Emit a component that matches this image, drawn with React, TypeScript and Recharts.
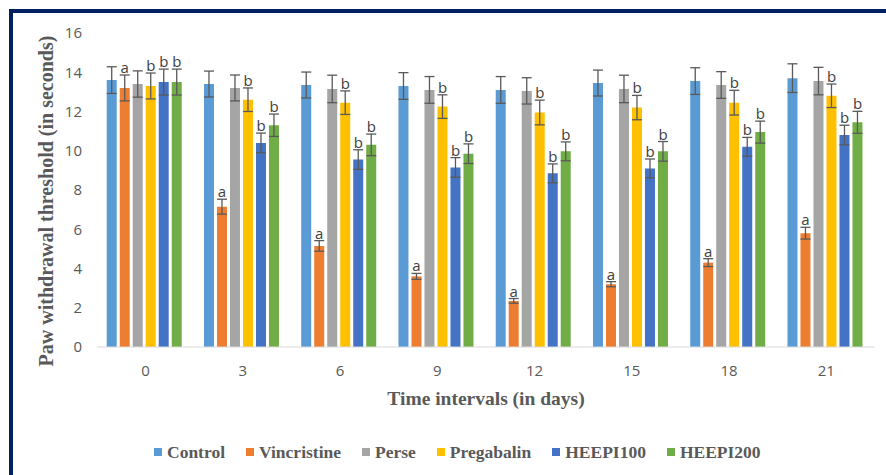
import React from 'react';
import { BarChart, Bar, XAxis, YAxis, ErrorBar, LabelList, Legend, Label } from 'recharts';

const days = ['0', '3', '6', '9', '12', '15', '18', '21'];
const yTicks = [0, 2, 4, 6, 8, 10, 12, 14, 16];

const control = [13.6, 13.4, 13.35, 13.3, 13.1, 13.45, 13.55, 13.7];
const controlErr = [0.68, 0.66, 0.66, 0.68, 0.68, 0.66, 0.68, 0.73];
const vincristine = [13.2, 7.15, 5.15, 3.6, 2.35, 3.2, 4.3, 5.8];
const vincristineErr = [0.66, 0.38, 0.27, 0.15, 0.12, 0.13, 0.2, 0.3];
const perse = [13.4, 13.2, 13.15, 13.1, 13.05, 13.15, 13.35, 13.55];
const perseErr = [0.67, 0.66, 0.7, 0.68, 0.67, 0.7, 0.68, 0.7];
const pregabalin = [13.3, 12.6, 12.45, 12.25, 11.95, 12.2, 12.45, 12.8];
const pregabalinErr = [0.66, 0.6, 0.6, 0.6, 0.63, 0.62, 0.63, 0.6];
const heepi100 = [13.5, 10.4, 9.55, 9.15, 8.85, 9.1, 10.2, 10.8];
const heepi100Err = [0.66, 0.5, 0.5, 0.5, 0.48, 0.48, 0.48, 0.5];
const heepi200 = [13.5, 11.3, 10.3, 9.85, 9.97, 9.97, 10.95, 11.45];
const heepi200Err = [0.66, 0.57, 0.55, 0.5, 0.48, 0.5, 0.56, 0.56];

const data = days.map((day, i) => ({
  day,
  control: control[i], controlErr: controlErr[i],
  vincristine: vincristine[i], vincristineErr: vincristineErr[i],
  perse: perse[i], perseErr: perseErr[i],
  pregabalin: pregabalin[i], pregabalinErr: pregabalinErr[i],
  heepi100: heepi100[i], heepi100Err: heepi100Err[i],
  heepi200: heepi200[i], heepi200Err: heepi200Err[i],
}));

const series = [
  { key: 'control', name: 'Control', color: '#5B9BD5', errs: controlErr, letter: '' },
  { key: 'vincristine', name: 'Vincristine', color: '#ED7D31', errs: vincristineErr, letter: 'a' },
  { key: 'perse', name: 'Perse', color: '#A5A5A5', errs: perseErr, letter: '' },
  { key: 'pregabalin', name: 'Pregabalin', color: '#FFC000', errs: pregabalinErr, letter: 'b' },
  { key: 'heepi100', name: 'HEEPI100', color: '#4472C4', errs: heepi100Err, letter: 'b' },
  { key: 'heepi200', name: 'HEEPI200', color: '#70AD47', errs: heepi200Err, letter: 'b' },
];

const letterLabel = (errs: number[], letter: string) => (props: any) => {
  const { x, y, width, height, value, index } = props;
  if (!letter || !value) return null;
  // put the letter just above the top of the error cap
  const capTop = Number(y) - (errs[index] * Number(height)) / Number(value);
  return (
    <text x={Number(x) + Number(width) / 2} y={capTop - 2} textAnchor="middle"
      fontFamily="'Open Sans', sans-serif" fontSize={15} fill="#404040">
      {letter}
    </text>
  );
};

const LegendContent = () => (
  <div style={{ display: 'flex', alignItems: 'center', paddingLeft: 154, height: 22 }}>
    {series.map(s => (
      <div key={s.key} style={{ display: 'flex', alignItems: 'center', marginRight: 21 }}>
        <span style={{ width: 8, height: 8, background: s.color, display: 'inline-block', marginRight: 5 }} />
        <span style={{ fontFamily: "'Liberation Serif', serif", fontWeight: 'bold', fontSize: 17.5, color: '#595959' }}>
          {s.name}
        </span>
      </div>
    ))}
  </div>
);

const App: React.FC = () => {
  return (
    <div style={{ position: 'absolute', left: 0, top: 0, width: 886, height: 475, background: '#fff' }}>
      <div style={{ position: 'absolute', left: 9, top: 9, width: 877, height: 4, background: '#002060' }} />
      <div style={{ position: 'absolute', left: 9, top: 9, width: 4, height: 466, background: '#002060' }} />
      <BarChart width={886} height={475} data={data}
        margin={{ top: 33, right: 11, left: 57, bottom: 0 }}
        barCategoryGap="10%" barGap={3}>
        <XAxis dataKey="day" height={106} axisLine={{ stroke: '#D9D9D9' }} tickLine={false} tickSize={0} tickMargin={18}
          tick={{ fill: '#595959', fontSize: 15, fontFamily: "'Open Sans', sans-serif" }}>
          <Label content={(p: any) => {
            const vb = p.viewBox || {};
            return (
              <text x={vb.x + vb.width / 2} y={405} textAnchor="middle" fontFamily="'Liberation Serif', serif"
                fontWeight="bold" fontSize={19.5} fill="#595959">Time intervals (in days)</text>
            );
          }} />
        </XAxis>
        <YAxis width={40} domain={[0, 16]} ticks={yTicks} axisLine={false} tickLine={false} tickSize={0} tickMargin={15}
          tick={{ fill: '#595959', fontSize: 15, fontFamily: "'Open Sans', sans-serif" }}>
          <Label content={() => (
            <text x={53} y={201} transform="rotate(-90 53 201)" textAnchor="middle" fontFamily="'Liberation Serif', serif"
              fontWeight="bold" fontSize={20} fill="#595959">Paw withdrawal threshold (in seconds)</text>
          )} />
        </YAxis>
        <Legend verticalAlign="bottom" content={LegendContent}
          wrapperStyle={{ left: 0, top: 441, bottom: 'auto', width: 886 }} />
        {series.map(s => (
          <Bar key={s.key} dataKey={s.key} name={s.name} fill={s.color} isAnimationActive={false}>
            <ErrorBar dataKey={`${s.key}Err`} width={5} stroke="#595959" strokeWidth={1.3} direction="y" isAnimationActive={false} />
            <LabelList dataKey={s.key} content={letterLabel(s.errs, s.letter)} />
          </Bar>
        ))}
      </BarChart>
    </div>
  );
};

export default App;
